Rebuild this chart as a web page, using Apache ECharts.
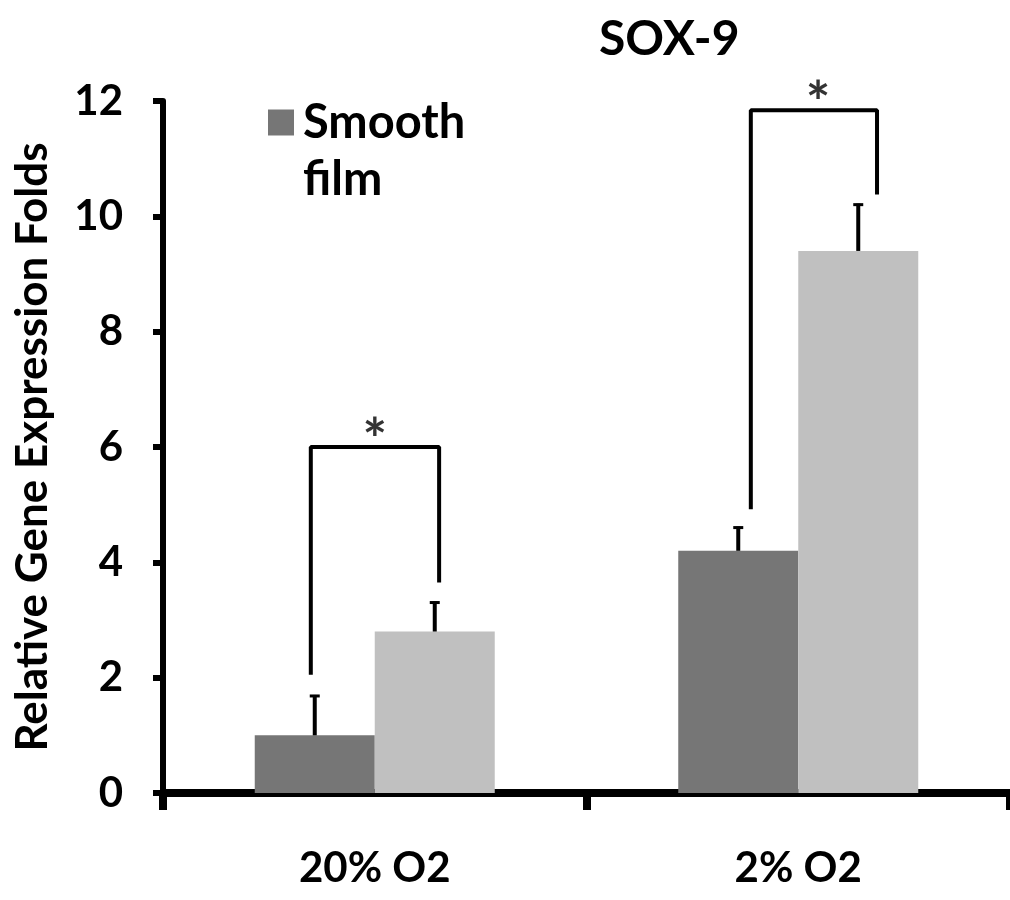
<!DOCTYPE html>
<html>
<head>
<meta charset="utf-8">
<script src="https://cdn.jsdelivr.net/npm/echarts@6/dist/echarts.min.js"></script>
<style>
html, body { margin: 0; padding: 0; background: #fff; }
#chart { width: 1010px; height: 900px; }
</style>
</head>
<body>
<div id="chart"></div>
<script>
// data
var categories = ['20% O2', '2% O2'];
var smoothFilm = [1.0, 4.2];
var smoothFilmTop = [1.7, 4.62];
var otherFilm = [2.8, 9.4];
var otherFilmTop = [3.32, 10.22];

// significance brackets, x in band units (0..2), y in folds
var bracketLow = [[0.349, 2.05], [0.349, 6.0], [0.652, 6.0], [0.652, 3.65]];
var bracketHigh = [[1.388, 4.92], [1.388, 11.84], [1.686, 11.84], [1.686, 10.38]];
var stars = [[0.50, 6.0], [1.547, 11.84]];

var font = 'Lato';
var barWidth = 120;

var myChart = echarts.init(document.getElementById('chart'));

// error bar only above the bar
function errorBars(values, tops, side) {
  return {
    type: 'custom',
    xAxisIndex: 0,
    yAxisIndex: 0,
    silent: true,
    z: 5,
    data: values.map(function (v, i) { return [i, v, tops[i]]; }),
    renderItem: function (params, api) {
      var base = api.coord([api.value(0), api.value(1)]);
      var top = api.coord([api.value(0), api.value(2)]);
      var x = base[0] + side * barWidth / 2;
      return {
        type: 'group',
        children: [
          { type: 'line', shape: { x1: x, y1: base[1], x2: x, y2: top[1] }, style: { stroke: '#000', lineWidth: 4 } },
          { type: 'line', shape: { x1: x - 5, y1: top[1] + 1, x2: x + 5, y2: top[1] + 1 }, style: { stroke: '#000', lineWidth: 3 } }
        ]
      };
    }
  };
}

function bracket(points) {
  return {
    type: 'line',
    xAxisIndex: 1,
    yAxisIndex: 0,
    silent: true,
    symbol: 'none',
    z: 6,
    lineStyle: { color: '#000', width: 4 },
    data: points
  };
}

var option = {
  animation: false,
  backgroundColor: '#fff',
  title: {
    text: 'SOX-9',
    left: 594,
    top: 11,
    textStyle: { fontFamily: font, fontSize: 48, fontWeight: 'bold', color: '#000' }
  },
  legend: {
    data: ['Smooth film'],
    left: 263,
    top: 32,
    icon: 'rect',
    itemWidth: 26,
    itemHeight: 26,
    itemGap: 12,
    // empty first line so that "Smooth" sits level with the swatch
    formatter: function () { return '\nSmooth\nfilm'; },
    textStyle: {
      fontFamily: font, fontSize: 47, fontWeight: 'bold', color: '#000',
      lineHeight: 57, padding: [0, 0, 0, 4]
    }
  },
  grid: { left: 163, right: 0, top: 101, bottom: 107, containLabel: false },
  xAxis: [{
    type: 'category',
    data: categories,
    axisLine: { lineStyle: { color: '#000', width: 8 } },
    axisTick: { show: true, length: 17, lineStyle: { color: '#000', width: 8 } },
    axisLabel: { fontFamily: font, fontSize: 42, fontWeight: 'bold', color: '#000', margin: 54 },
    splitLine: { show: false }
  }, {
    type: 'value',
    min: 0,
    max: 2,
    show: false
  }],
  yAxis: {
    type: 'value',
    min: 0,
    max: 12,
    interval: 2,
    name: 'Relative Gene Expression Folds',
    nameLocation: 'middle',
    nameRotate: 90,
    nameGap: 108,
    nameTextStyle: { fontFamily: font, fontSize: 44, fontWeight: 'bold', color: '#000' },
    axisLine: { show: true, lineStyle: { color: '#000', width: 6 } },
    axisTick: { show: true, length: 10, lineStyle: { color: '#000', width: 6 } },
    axisLabel: { fontFamily: font, fontSize: 42, fontWeight: 'bold', color: '#000', margin: 40 },
    splitLine: { show: false }
  },
  series: [{
    name: 'Smooth film',
    type: 'bar',
    barWidth: barWidth,
    barGap: '0%',
    itemStyle: { color: '#767676' },
    data: smoothFilm
  }, {
    name: 'Patterned film',
    type: 'bar',
    barWidth: barWidth,
    barGap: '0%',
    itemStyle: { color: '#c0c0c0' },
    data: otherFilm
  },
    errorBars(smoothFilm, smoothFilmTop, -1),
    errorBars(otherFilm, otherFilmTop, 1),
    bracket(bracketLow),
    bracket(bracketHigh),
  {
    type: 'scatter',
    xAxisIndex: 1,
    yAxisIndex: 0,
    silent: true,
    clip: false,
    symbolSize: 2,
    z: 7,
    itemStyle: { color: 'rgba(0,0,0,0)' },
    label: {
      show: true,
      position: 'top',
      distance: -24,
      formatter: '*',
      fontFamily: font,
      fontSize: 58,
      fontWeight: 'bold',
      color: '#000'
    },
    data: stars
  }]
};

myChart.setOption(option);
</script>
</body>
</html>
